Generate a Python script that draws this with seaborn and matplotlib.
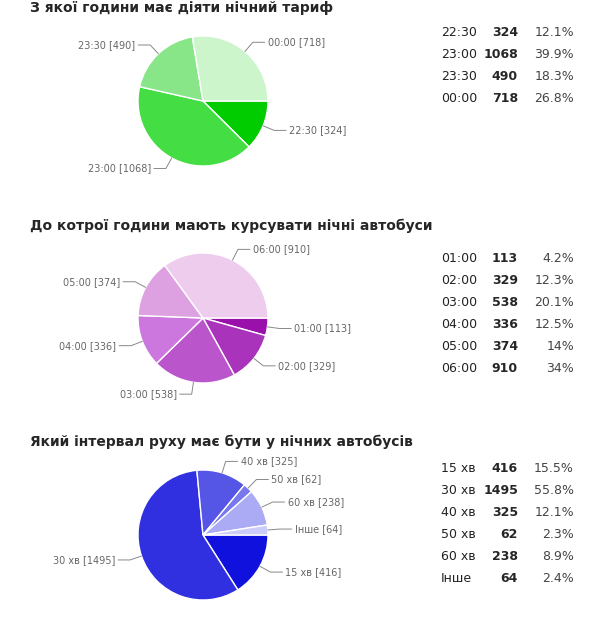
import matplotlib
matplotlib.use("Agg")
import matplotlib.pyplot as plt
import seaborn as sns
import numpy as np

sns.set_style("white")

titles = ["З якої години має діяти нічний тариф",
          "До котрої години мають курсувати нічні автобуси",
          "Який інтервал руху має бути у нічних автобусів"]
cats1 = ["22:30", "23:00", "23:30", "00:00"]
vals1 = [324, 1068, 490, 718]
pct1 = ["12.1%", "39.9%", "18.3%", "26.8%"]
cats2 = ["01:00", "02:00", "03:00", "04:00", "05:00", "06:00"]
vals2 = [113, 329, 538, 336, 374, 910]
pct2 = ["4.2%", "12.3%", "20.1%", "12.5%", "14%", "34%"]
cats3 = ["15 хв", "30 хв", "40 хв", "50 хв", "60 хв", "Інше"]
vals3 = [416, 1495, 325, 62, 238, 64]
pct3 = ["15.5%", "55.8%", "12.1%", "2.3%", "8.9%", "2.4%"]

cols1 = ["#00cc00", "#44dd44", "#88e688", "#ccf5cc"]
cols2 = ["#9911aa", "#aa33bb", "#bb55cc", "#cc77dd", "#dda0e0", "#eeccee"]
cols3 = ["#1111dd", "#3030e0", "#5555e6", "#7777ee", "#aaaaf5", "#ccccfa"]

W, H = 615, 635
fig = plt.figure(figsize=(6.15, 6.35), dpi=100)
ax = fig.add_axes([0, 0, 1, 1])
ax.set_xlim(0, W); ax.set_ylim(0, H); ax.axis("off")

sections = [(cats1, vals1, pct1, cols1, 8, 101, 33),
            (cats2, vals2, pct2, cols2, 226, 318, 258),
            (cats3, vals3, pct3, cols3, 442, 535, 468)]
R = 65
for (cats, vals, pcts, cols, ty, cy, ry), title in zip(sections, titles):
    ax.text(30, H - ty, title, fontsize=10, fontweight="bold", va="center", ha="left")
    cx = 203
    wedges, _ = ax.pie(vals, colors=cols, startangle=0, counterclock=False,
                       center=(cx, H - cy), radius=R, frame=True,
                       wedgeprops=dict(edgecolor="white", linewidth=1))
    for w, c, v in zip(wedges, cats, vals):
        a = np.deg2rad((w.theta1 + w.theta2) / 2)
        x0, y0 = cx + R * np.cos(a), H - cy + R * np.sin(a)
        x1, y1 = cx + (R + 12) * np.cos(a), H - cy + (R + 12) * np.sin(a)
        side = 1 if np.cos(a) >= 0 else -1
        x2 = x1 + side * 12
        ax.plot([x0, x1, x2], [y0, y1, y1], color="#888888", lw=0.7)
        ax.text(x2 + side * 3, y1, f"{c} [{v}]", fontsize=7, color="#666666",
                ha="left" if side > 0 else "right", va="center")
    for i, (c, v, p) in enumerate(zip(cats, vals, pcts)):
        y = H - (ry + i * 22)
        ax.text(441, y, c, fontsize=9, va="center", ha="left", color="#222222")
        ax.text(518, y, str(v), fontsize=9, fontweight="bold", va="center", ha="right")
        ax.text(574, y, p, fontsize=9, va="center", ha="right", color="#444444")
ax.set_xlim(0, W); ax.set_ylim(0, H); ax.set_aspect("auto")
fig.savefig("out.png", dpi=100)
